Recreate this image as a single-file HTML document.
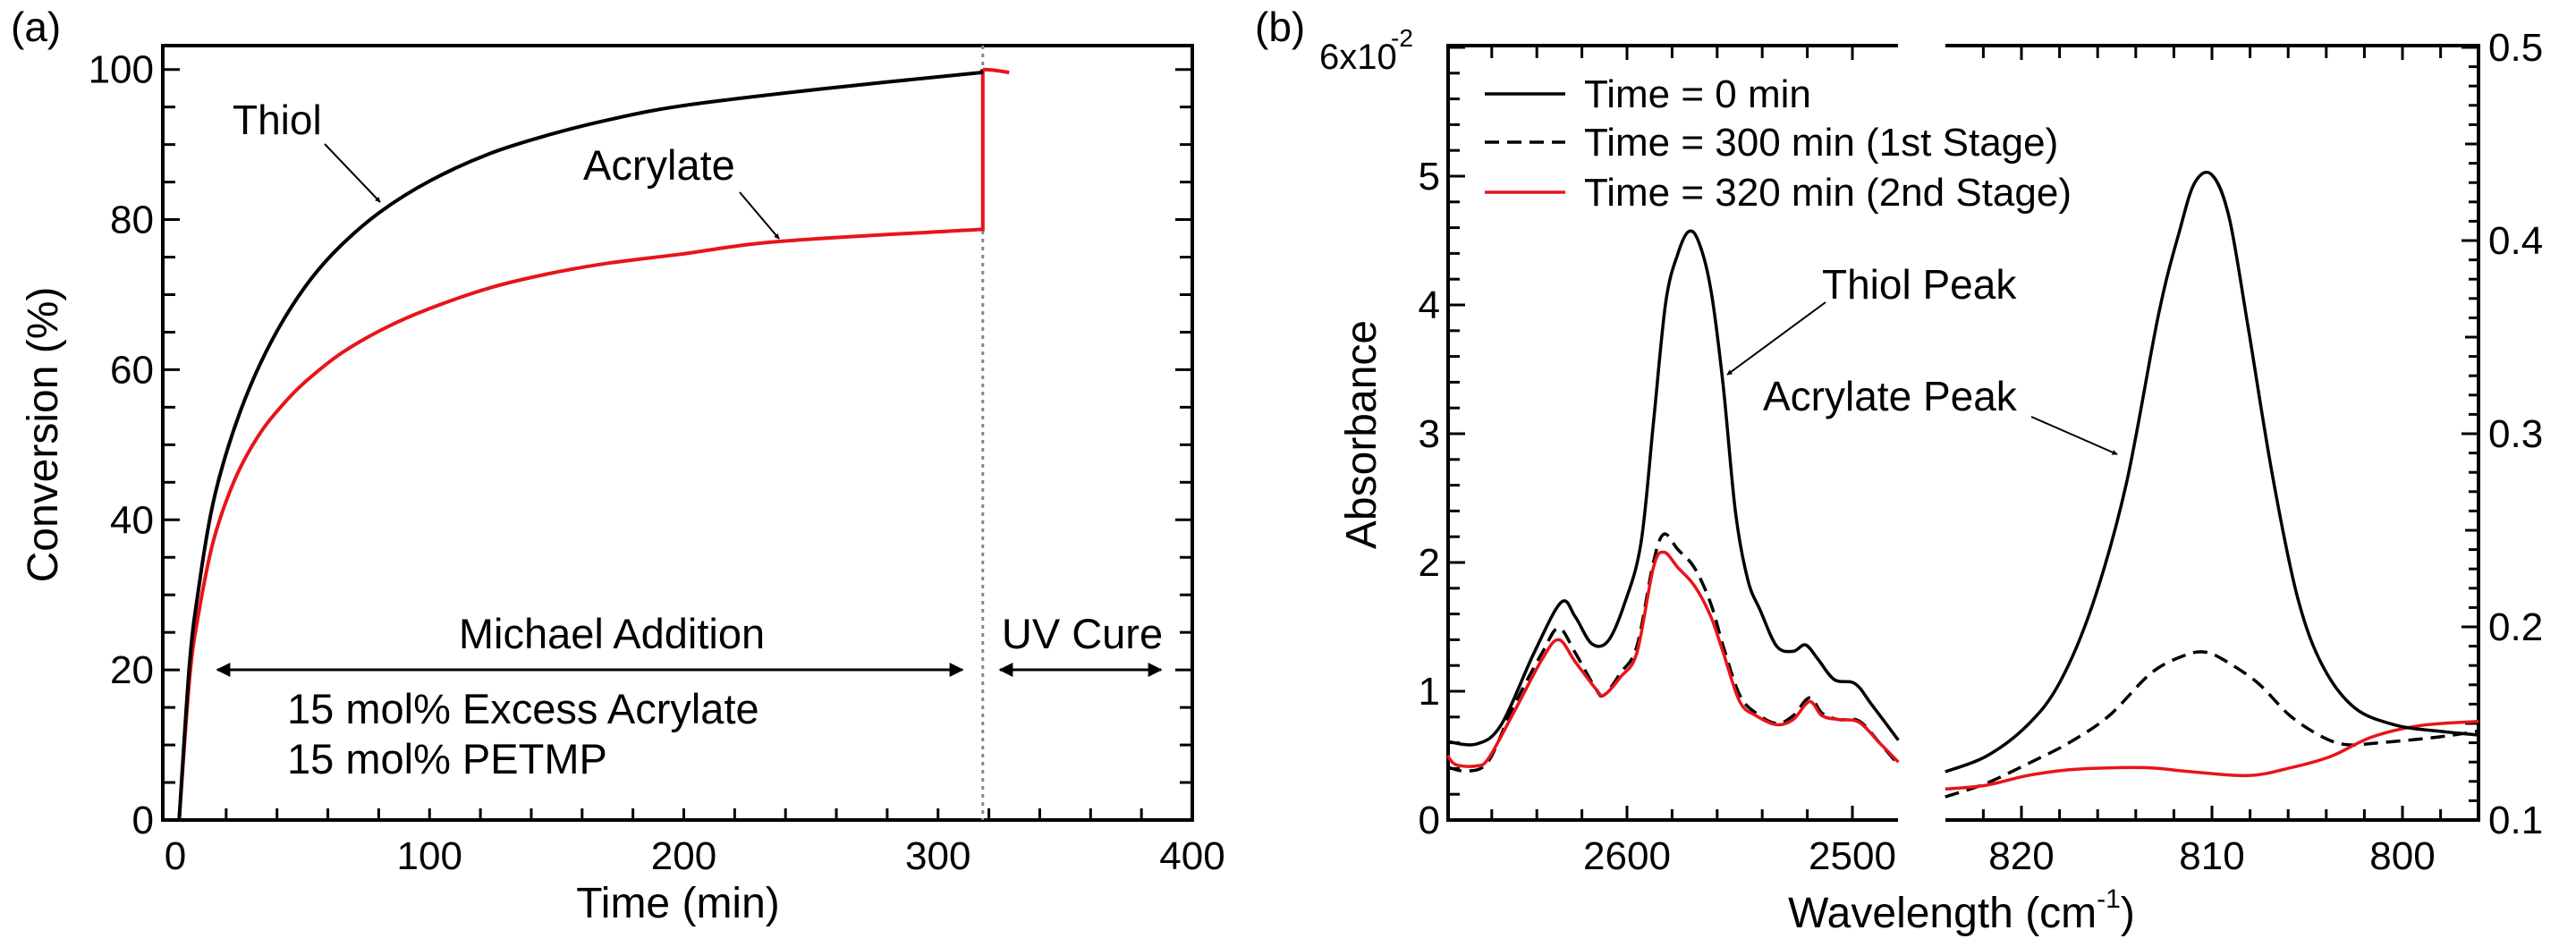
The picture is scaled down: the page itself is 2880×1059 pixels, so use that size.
<!DOCTYPE html>
<html><head><meta charset="utf-8"><style>
html,body{margin:0;padding:0;background:#fff;}
svg{display:block;font-family:"Liberation Sans",sans-serif;}
</style></head><body>
<svg id="fig" width="2880" height="1059" viewBox="0 0 2880 1059" xmlns="http://www.w3.org/2000/svg">
<defs>
<marker id="ah" viewBox="0 0 10 10" refX="9" refY="5" markerWidth="8" markerHeight="6" orient="auto-start-reverse" markerUnits="userSpaceOnUse"><path d="M0,0 L10,5 L0,10 z" fill="#000"/></marker>
<marker id="ah2" viewBox="0 0 10 10" refX="9" refY="5" markerWidth="30" markerHeight="16" orient="auto-start-reverse" markerUnits="userSpaceOnUse"><path d="M0,0 L10,5 L0,10 z" fill="#000"/></marker>
</defs>
<g id="pa"></g>
<g id="pb"></g>
</svg>
<script>
// ---- Panel (a) data ----
const thiolT = [1.5,5.6,9.1,13.8,18.5,25.5,33.7,43,53.6,65.3,80.5,100.4,123.7,147,170.5,200,254,317];
const thiolC = [0,20.8,30.7,40.5,47.1,54.4,61,66.9,72.2,76.6,81.0,85.2,88.8,91.3,93.3,95.2,97.4,99.6];
const acrT = [1.5,5.6,9.1,15,23.2,32.5,41.9,51.2,65.3,82.8,100.4,123.7,147,170.5,199,238,317];
const acrC = [0,18.8,27.4,37.2,45.2,51.1,55.2,58.4,62.2,65.6,68.2,70.9,72.8,74.2,75.4,77.1,78.7];
const cureT = [317.6,322,328];
const cureC = [100,99.9,99.6];
const aXTicks = [0,100,200,300,400];
const aYTicks = [0,20,40,60,80,100];
const uvStart = 317.6;

// ---- Panel (b) data ----
const wL_solid = [2679.6,2666.8,2655.8,2641.2,2629.2,2623,2615.7,2608.4,2601.1,2593.8,2588.3,2582.8,2577.4,2572.6,2568.2,2562.8,2557.3,2551.8,2546.3,2540.9,2533.6,2526.3,2520.8,2515.3,2508,2498.9,2491.6,2479.6];
const aL_solid = [0.61,0.59,0.74,1.30,1.69,1.58,1.37,1.39,1.68,2.15,3.08,4.02,4.40,4.57,4.49,4.12,3.37,2.38,1.86,1.63,1.35,1.31,1.36,1.25,1.09,1.06,0.90,0.62];
const wL_b = [2679.6,2670.5,2661.4,2650.4,2637.6,2630.3,2623,2613.9,2610.2,2602.9,2595.6,2588.3,2583.6,2577.4,2570.1,2562.8,2557.3,2550,2542.7,2533.6,2526.3,2519,2513.5,2506.2,2497.1,2488,2479.6];
const aL_dash = [0.41,0.38,0.46,0.88,1.30,1.49,1.30,1.02,0.97,1.14,1.35,2.00,2.22,2.10,1.96,1.68,1.35,0.97,0.83,0.75,0.81,0.95,0.83,0.78,0.77,0.60,0.43];
const aL_red = [0.50,0.43,0.42,0.48,0.83,1.25,1.40,1.23,1.02,0.97,1.11,1.30,1.96,2.08,1.96,1.82,1.58,1.30,0.92,0.81,0.74,0.78,0.92,0.81,0.78,0.76,0.60,0.45];
const wL_red = [2679.6,2675.9,2666.8,2661.4,2650.4,2637.6,2630.3,2623,2613.9,2610.2,2602.9,2595.6,2588.3,2583.6,2577.4,2570.1,2562.8,2557.3,2550,2542.7,2533.6,2526.3,2519,2513.5,2506.2,2497.1,2488,2479.6];
const wR_solid = [824.0,821.85,819.7,818.0,816.25,814.5,812.8,811.7,810.9,810.0,809.1,808.1,806.8,805.5,804.2,802.5,800.3,798.1,796.0];
const aR_solid = [0.125,0.133,0.149,0.171,0.212,0.274,0.362,0.405,0.430,0.434,0.412,0.355,0.277,0.215,0.180,0.158,0.149,0.146,0.144];
const wR_dash = [824.0,821.85,819.7,817.5,815.4,813.2,811.5,810.4,809.4,807.6,805.9,804.2,802.9,801.2,798.1,796.0];
const aR_dash = [0.112,0.119,0.129,0.140,0.154,0.176,0.185,0.187,0.183,0.171,0.154,0.143,0.139,0.140,0.143,0.146];
const wR_red = [824.0,821.85,819.7,817.5,815.4,813.2,811.1,808.1,805.9,803.75,801.6,799.0,796.0];
const aR_red = [0.116,0.118,0.123,0.126,0.127,0.127,0.125,0.123,0.127,0.133,0.143,0.149,0.151];
const bLTicks = [2600,2500];
const bRTicks = [820,810,800];
const bYTicksL = [0,1,2,3,4,5];
const bYTicksR = [0.1,0.2,0.3,0.4,0.5];

const NS='http://www.w3.org/2000/svg';
function mk(parent,tag,attrs,text){const e=document.createElementNS(NS,tag);for(const k in attrs)e.setAttribute(k,attrs[k]);if(text!==undefined)e.textContent=text;parent.appendChild(e);return e;}
function smooth(pts){
  if(pts.length<3)return 'M'+pts.map(p=>p[0].toFixed(1)+','+p[1].toFixed(1)).join(' L');
  let d='M'+pts[0][0].toFixed(1)+','+pts[0][1].toFixed(1);
  for(let i=0;i<pts.length-1;i++){
    const p0=pts[Math.max(0,i-1)],p1=pts[i],p2=pts[i+1],p3=pts[Math.min(pts.length-1,i+2)];
    const c1=[p1[0]+(p2[0]-p0[0])/6,p1[1]+(p2[1]-p0[1])/6];
    const c2=[p2[0]-(p3[0]-p1[0])/6,p2[1]-(p3[1]-p1[1])/6];
    d+=' C'+c1.map(v=>v.toFixed(1)).join(',')+' '+c2.map(v=>v.toFixed(1)).join(',')+' '+p2[0].toFixed(1)+','+p2[1].toFixed(1);
  }
  return d;
}

// ---------- Panel A ----------
const pa=document.getElementById('pa');
const ax={l:182,r:1333,t:51,b:917};
const xA=t=>196+(t-0)*(1333-196)/400;
const yA=c=>917-c*(917-77.7)/100;
mk(pa,'rect',{x:ax.l,y:ax.t,width:ax.r-ax.l,height:ax.b-ax.t,fill:'none',stroke:'#000','stroke-width':4,});
for(let v=0;v<=100;v+=5){
  const y=yA(v),len=(v%20===0)?19:14;
  const t1=mk(pa,'line',{x1:ax.l,x2:ax.l+len,y1:y,y2:y,stroke:'#000','stroke-width':3});
  
  
  const t2=mk(pa,'line',{x1:ax.r,x2:ax.r-len,y1:y,y2:y,stroke:'#000','stroke-width':3});
  
  
}
for(let v=20;v<400;v+=20){
  const x=xA(v);
  const t1=mk(pa,'line',{x1:x,x2:x,y1:ax.b,y2:ax.b-13,stroke:'#000','stroke-width':3});
  
  
}
aYTicks.forEach(v=>{const e=mk(pa,'text',{x:172,y:yA(v)+15,'text-anchor':'end','font-size':44},String(v));
  
  });
aXTicks.forEach(v=>{const e=mk(pa,'text',{x:xA(v),y:972,'text-anchor':'middle','font-size':44},String(v));
  
  });
mk(pa,'text',{x:758,y:1026,'text-anchor':'middle','font-size':48,},'Time (min)');
mk(pa,'text',{x:0,y:0,transform:'translate(64,486) rotate(-90)','text-anchor':'middle','font-size':48,},'Conversion (%)');
mk(pa,'text',{x:12,y:46,'font-size':46,},'(a)');
mk(pa,'line',{x1:xA(uvStart),x2:xA(uvStart),y1:ax.t,y2:ax.b,stroke:'#888','stroke-width':3,'stroke-dasharray':'4,5',});
const thP=thiolT.map((t,i)=>[xA(t),yA(thiolC[i])]);
const acP=acrT.map((t,i)=>[xA(t),yA(acrC[i])]);
const acPath=mk(pa,'path',{d:smooth(acP)+' L'+xA(uvStart)+','+yA(acrC[acrC.length-1])+' L'+xA(uvStart)+','+yA(cureC[0]),fill:'none',stroke:'#e8141a','stroke-width':4});


const thPath=mk(pa,'path',{d:smooth(thP)+' L'+xA(uvStart)+','+yA(cureC[0]),fill:'none',stroke:'#000','stroke-width':4});


const cuP=cureT.map((t,i)=>[xA(t),yA(cureC[i])]);
const cuPath=mk(pa,'path',{d:smooth(cuP),fill:'none',stroke:'#e8141a','stroke-width':4});


mk(pa,'text',{x:260,y:150,'font-size':46,},'Thiol');
mk(pa,'line',{x1:363,y1:161,x2:425,y2:226,stroke:'#000','stroke-width':2,'marker-end':'url(#ah)',});
mk(pa,'text',{x:652,y:201,'font-size':47,},'Acrylate');
mk(pa,'line',{x1:827,y1:215,x2:871,y2:267,stroke:'#000','stroke-width':2,'marker-end':'url(#ah)',});
mk(pa,'text',{x:684,y:725,'text-anchor':'middle','font-size':47,},'Michael Addition');
mk(pa,'line',{x1:243,y1:749,x2:1076,y2:749,stroke:'#000','stroke-width':3,'marker-start':'url(#ah2)','marker-end':'url(#ah2)',});
mk(pa,'text',{x:1210,y:725,'text-anchor':'middle','font-size':47,},'UV Cure');
mk(pa,'line',{x1:1118,y1:749,x2:1298,y2:749,stroke:'#000','stroke-width':3,'marker-start':'url(#ah2)','marker-end':'url(#ah2)',});
mk(pa,'text',{x:321,y:809,'font-size':47,},'15 mol% Excess Acrylate');
mk(pa,'text',{x:321,y:865,'font-size':47,},'15 mol% PETMP');

// ---------- Panel B ----------
const pb=document.getElementById('pb');
const L={l:1619,r:2122},R={l:2175,r:2771},T=51,B=917;
const xL=w=>1819+(2600-w)*2.52;
const xR=w=>2260+(820-w)*21.3;
const yL=a=>917-a*144;
const yR=a=>917-(a-0.1)*2160;
mk(pb,'path',{d:`M${L.r},${T} L${L.l},${T} L${L.l},${B} L${L.r},${B} M${R.l},${T} L${R.r},${T} L${R.r},${B} L${R.l},${B}`,fill:'none',stroke:'#000','stroke-width':4,});
for(let w=2680;w>=2480;w-=20){const x=xL(w);if(x<L.l+2||x>L.r-2)continue;
  const big=(w%100===0);
  const e1=mk(pb,'line',{x1:x,x2:x,y1:B,y2:B-(big?16:12),stroke:'#000','stroke-width':3});
  
  
  const e2=mk(pb,'line',{x1:x,x2:x,y1:T,y2:T+(big?16:14),stroke:'#000','stroke-width':3});
  
  }
for(let w=824;w>=796;w-=2){const x=xR(w);if(x<R.l+2||x>R.r-2)continue;
  const big=(w%10===0);
  const e1=mk(pb,'line',{x1:x,x2:x,y1:B,y2:B-(big?16:12),stroke:'#000','stroke-width':3});
  
  
  const e2=mk(pb,'line',{x1:x,x2:x,y1:T,y2:T+(big?16:14),stroke:'#000','stroke-width':3});
  
  }
for(let i=0;i<=30;i++){const v=i*0.2;const y=yL(v);const big=(i%5===0);
  const e=mk(pb,'line',{x1:L.l,x2:L.l+(big?19:13),y1:y,y2:y,stroke:'#000','stroke-width':3});
  
  }
for(let i=0;i<=40;i++){const v=0.1+i*0.01;const y=yR(v);const big=(i%10===0);
  const e=mk(pb,'line',{x1:R.r,x2:R.r-(big?19:(i%5===0?15:11)),y1:y,y2:y,stroke:'#000','stroke-width':3});
  
  }
bYTicksL.forEach(v=>{const e=mk(pb,'text',{x:1610,y:yL(v)+15,'text-anchor':'end','font-size':44},String(v));
  
  });
mk(pb,'text',{x:1475,y:77,'font-size':40,},'6x10');
mk(pb,'text',{x:1555,y:52,'font-size':28,},'-2');
bYTicksR.forEach(v=>{const e=mk(pb,'text',{x:2782,y:yR(v)+15,'font-size':44},v.toFixed(1));
  
  });
bLTicks.forEach(v=>{const e=mk(pb,'text',{x:xL(v),y:972,'text-anchor':'middle','font-size':44},String(v));
  
  });
bRTicks.forEach(v=>{const e=mk(pb,'text',{x:xR(v),y:972,'text-anchor':'middle','font-size':44},String(v));
  
  });
const xt=mk(pb,'text',{x:2193,y:1037,'text-anchor':'middle','font-size':48,});
xt.innerHTML='Wavelength (cm<tspan font-size="30" dy="-22">-1</tspan><tspan dy="22">)</tspan>';
mk(pb,'text',{x:0,y:0,transform:'translate(1538,486) rotate(-90)','text-anchor':'middle','font-size':48,},'Absorbance');
mk(pb,'text',{x:1403,y:46,'font-size':46,},'(b)');
function series(ws,as,fx,fy,color,dash,name){
  const p=mk(pb,'path',{d:smooth(ws.map((w,i)=>[fx(w),fy(as[i])])),fill:'none',stroke:color,'stroke-width':3.5,'stroke-dasharray':dash||'none','stroke-linejoin':'round'});
  
  
}
series(wL_b,aL_dash,xL,yL,'#000','16,9','dashed-300min-left');
series(wL_red,aL_red,xL,yL,'#e8141a',null,'red-320min-left');
series(wL_solid,aL_solid,xL,yL,'#000',null,'solid-0min-left');
series(wR_dash,aR_dash,xR,yR,'#000','16,9','dashed-300min-right');
series(wR_red,aR_red,xR,yR,'#e8141a',null,'red-320min-right');
series(wR_solid,aR_solid,xR,yR,'#000',null,'solid-0min-right');
const lg=[['Time = 0 min','#000',null,105],['Time = 300 min (1st Stage)','#000','16,9',159],['Time = 320 min (2nd Stage)','#e8141a',null,215]];
lg.forEach(r=>{
  const l=mk(pb,'line',{x1:1660,x2:1750,y1:r[3],y2:r[3],stroke:r[1],'stroke-width':3.5,'stroke-dasharray':r[2]||'none'});
  
  
  const t=mk(pb,'text',{x:1771,y:r[3]+15,'font-size':44},r[0]);
  
  
});
mk(pb,'text',{x:2037,y:334,'font-size':46,},'Thiol Peak');
mk(pb,'line',{x1:2041,y1:338,x2:1931,y2:419,stroke:'#000','stroke-width':2,'marker-end':'url(#ah)',});
mk(pb,'text',{x:1971,y:459,'font-size':46,},'Acrylate Peak');
mk(pb,'line',{x1:2271,y1:466,x2:2367,y2:508,stroke:'#000','stroke-width':2,'marker-end':'url(#ah)',});
</script>
</body></html>
